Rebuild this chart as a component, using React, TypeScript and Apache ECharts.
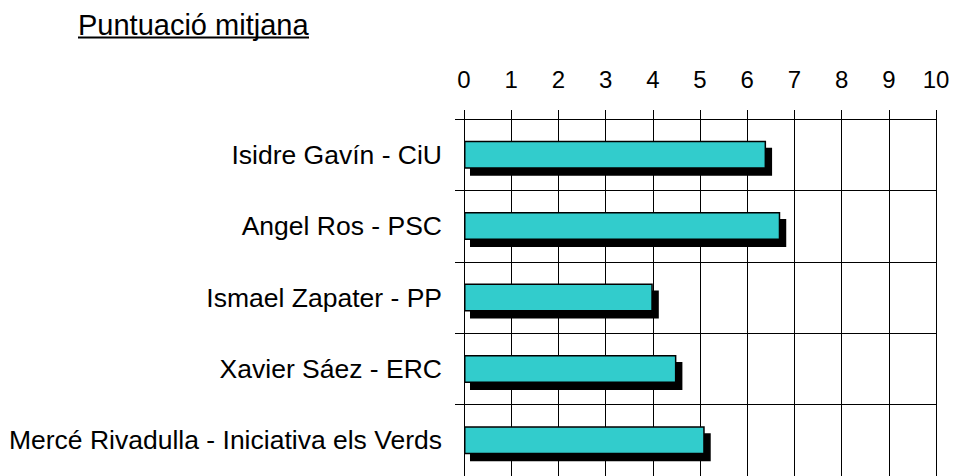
import React, { useEffect, useRef } from "react";
import * as echarts from "echarts";

const categories = [
  "Isidre Gavín - CiU",
  "Angel Ros - PSC",
  "Ismael Zapater - PP",
  "Xavier Sáez - ERC",
  "Mercé Rivadulla - Iniciativa els Verds",
];
const scores = [6.4, 6.7, 4.0, 4.5, 5.1];
const titleText = "Puntuació mitjana";

const FONT = '"Liberation Sans", Arial, Helvetica, sans-serif';

export default function App() {
  const ref = useRef<HTMLDivElement>(null);
  useEffect(() => {
    document.body.style.margin = "0";
    const chart = echarts.init(ref.current!, undefined, { renderer: "svg" });
    chart.setOption({
      animation: false,
      backgroundColor: "#fff",
      textStyle: { fontFamily: FONT },
      grid: { left: 464, top: 119, width: 472, height: 362.5, containLabel: false },
      graphic: [
        {
          type: "text",
          left: 78,
          top: 10,
          style: { text: titleText, font: `29px ${FONT}`, fill: "#000" },
        },
        {
          type: "line",
          shape: { x1: 78, y1: 37.5, x2: 309, y2: 37.5 },
          style: { stroke: "#000", lineWidth: 2 },
        },
      ],
      xAxis: {
        type: "value",
        position: "top",
        min: 0,
        max: 10,
        interval: 1,
        axisLine: { show: true, lineStyle: { color: "#000", width: 1 } },
        axisTick: { show: true, length: 9, lineStyle: { color: "#000" } },
        splitLine: { show: true, lineStyle: { color: "#000", width: 1 } },
        axisLabel: { color: "#000", fontSize: 24, fontFamily: FONT, margin: 28 },
      },
      yAxis: {
        type: "category",
        inverse: true,
        data: categories,
        axisLine: { show: true, lineStyle: { color: "#000", width: 1 } },
        axisTick: { show: true, length: 9, interval: 0, lineStyle: { color: "#000" } },
        splitLine: { show: true, interval: 0, lineStyle: { color: "#000", width: 1 } },
        axisLabel: { color: "#000", fontSize: 26.5, fontFamily: FONT, margin: 22, interval: 0 },
      },
      series: [
        {
          type: "bar",
          data: scores,
          barWidth: 28,
          itemStyle: {
            color: "#33CCCC",
            borderColor: "#000",
            borderWidth: 1.5,
            shadowColor: "#000",
            shadowBlur: 0,
            shadowOffsetX: 6,
            shadowOffsetY: 7,
          },
          emphasis: { disabled: true },
        },
      ],
    });
    return () => chart.dispose();
  }, []);
  return <div ref={ref} style={{ width: 953, height: 476 }} />;
}
